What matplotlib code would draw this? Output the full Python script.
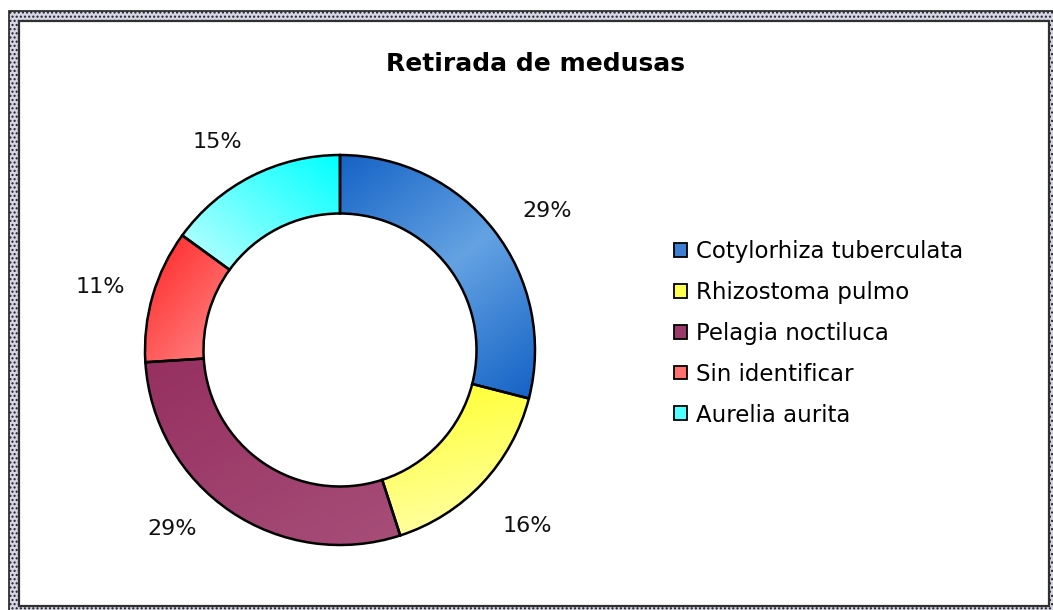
import numpy as np
import matplotlib
matplotlib.use('Agg')
import matplotlib.pyplot as plt
from matplotlib.patches import Rectangle, Patch
from matplotlib.colors import LinearSegmentedColormap

# Datos del grafico
especies = ['Cotylorhiza tuberculata', 'Rhizostoma pulmo', 'Pelagia noctiluca',
            'Sin identificar', 'Aurelia aurita']
porcentajes = [29, 16, 29, 11, 15]

# Colores (inicio, fin) de cada degradado y direccion (x, y)
colores_ini = ['#1563c6', '#ffff10', '#963060', '#ff3838', '#00ffff']
colores_fin = ['#64a2e2', '#ffff9c', '#a64d78', '#ffc4c4', '#a8ffff']
direcciones = [(0.97, -1.25), (0.2, -1.0), (0.6, -1.0), (1.0, -0.8), (-0.8, -1.0)]
reflejado = [True, False, False, False, False]
color_leyenda = ['#3d7fd3', '#ffff50', '#9a3a68', '#ff7070', '#50ffff']

# colocacion de las etiquetas de porcentaje (como en Excel)
ajuste_angulo = [-4, 0, -9, 1.5, 3.5]
dist_etiqueta = [1.28, 1.32, 1.26, 1.27, 1.24]

plt.rcParams['hatch.color'] = '#b8b8d0'

W, H = 1053, 610
fig = plt.figure(figsize=(W / 100, H / 100), dpi=100)
fig.patch.set_facecolor('white')

# marco con borde tramado
fig.patches.append(Rectangle((9 / W, -0.05), 1.1, (H - 11) / H + 0.05,
                             transform=fig.transFigure, facecolor='#d6d6e6',
                             edgecolor='#202020', linewidth=1.2, hatch='....',
                             zorder=-3))
fig.patches.append(Rectangle((19 / W, 4 / H), (1049 - 19) / W, (606 - 21) / H,
                             transform=fig.transFigure, facecolor='white',
                             edgecolor='#303030', linewidth=1.6, zorder=-2))

# ejes para el anillo
cx, cy, r = 340, 350, 195
medio = 205
ax = fig.add_axes([(cx - medio) / W, (H - cy - medio) / H, 2 * medio / W, 2 * medio / H])
ax.patch.set_visible(False)

wedges, textos, autotextos = ax.pie(
    porcentajes, startangle=90, counterclock=False, radius=1,
    autopct='%1.0f%%', pctdistance=1.27,
    wedgeprops=dict(width=0.30, edgecolor='black', linewidth=1.8),
    textprops=dict(fontsize=16, color='#111111'))

for i, (w, txt) in enumerate(zip(wedges, autotextos)):
    ang = np.deg2rad((w.theta1 + w.theta2) / 2 + ajuste_angulo[i])
    txt.set_position((dist_etiqueta[i] * np.cos(ang), dist_etiqueta[i] * np.sin(ang)))

# degradados recortados a cada porcion
xs = np.linspace(-1.02, 1.02, 400)
X, Y = np.meshgrid(xs, xs[::-1])
for i, w in enumerate(wedges):
    dx, dy = direcciones[i]
    n = np.hypot(dx, dy)
    dx, dy = dx / n, dy / n
    verts = w.get_path().vertices
    proy = verts[:, 0] * dx + verts[:, 1] * dy
    t = (X * dx + Y * dy - proy.min()) / (proy.max() - proy.min())
    t = np.clip(t, 0, 1)
    if reflejado[i]:
        t = 1 - np.abs(2 * t - 1)
    cmap = LinearSegmentedColormap.from_list('g%d' % i, [colores_ini[i], colores_fin[i]])
    im = ax.imshow(t, cmap=cmap, vmin=0, vmax=1, extent=(-1.02, 1.02, -1.02, 1.02),
                   zorder=1, interpolation='bilinear')
    im.set_clip_path(w)
    w.set_facecolor('none')
    w.set_zorder(2)
ax.set_xlim(-medio / r, medio / r)
ax.set_ylim(-medio / r, medio / r)
ax.set_aspect('equal')
ax.axis('off')

fig.text(535 / W, 1 - 64 / H, 'Retirada de medusas', ha='center', va='center',
         fontsize=18, fontweight='bold', color='black')

handles = [Patch(facecolor=c, edgecolor='black', linewidth=1.3) for c in color_leyenda]
fig.legend(handles, especies, loc='upper left', bbox_to_anchor=(674 / W, 1 - 240 / H),
           frameon=False, fontsize=16.5, handlelength=0.55, handleheight=0.55,
           handletextpad=0.4, labelspacing=0.78, borderaxespad=0, borderpad=0)

fig.savefig('out.png', dpi=100, facecolor=fig.get_facecolor())
